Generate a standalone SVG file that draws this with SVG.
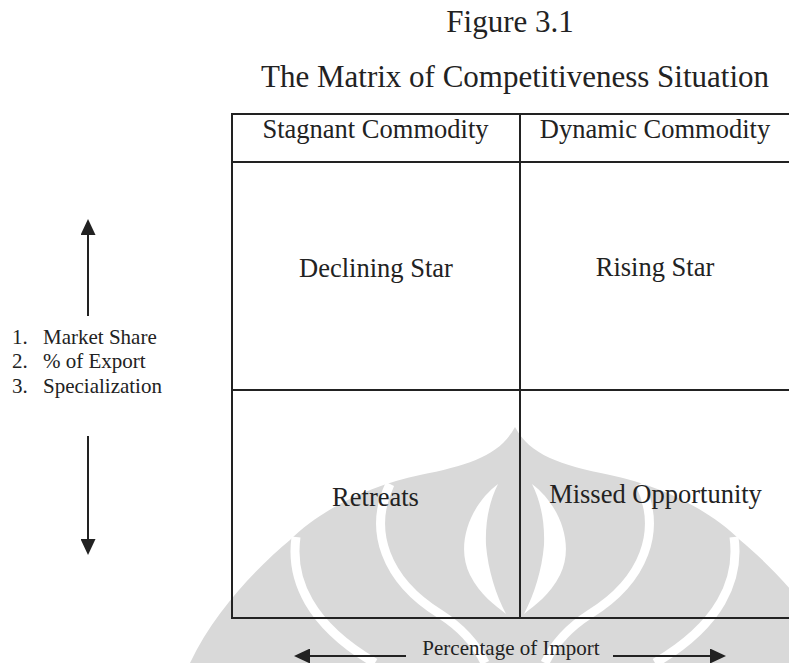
<svg xmlns="http://www.w3.org/2000/svg" width="789" height="663" viewBox="0 0 789 663">
<style>
  .t { font-family: "Liberation Serif", "Times New Roman", serif; fill: #222; }
  .title { font-size: 31px; text-anchor: middle; }
  .cell { font-size: 26.5px; text-anchor: middle; }
  .small { font-size: 21px; }
  .grid { stroke: #222; stroke-width: 2; fill: none; }
  .arrow { stroke: #222; stroke-width: 2; fill: none; }
  .band { stroke: #fff; stroke-width: 9; fill: none; }
</style>
<defs>
  <marker id="head" markerUnits="userSpaceOnUse" markerWidth="16" markerHeight="15" refX="0" refY="7.5" orient="auto">
    <path d="M0,0 L16,7.5 L0,15 Z" fill="#222"/>
  </marker>
</defs>
<rect width="789" height="663" fill="#fff"/>
<g id="watermark">
  <path d="M515,427 C500,455 470,465 420,475 C370,485 320,510 290,540 C260,565 215,610 190,663 L840,663 C815,610 770,565 740,540 C710,510 660,485 610,475 C560,465 530,455 515,427 Z" fill="#d9d9d9"/>
  <path class="band" d="M296,537 C290,580 310,625 375,663"/>
  <path class="band" d="M734,537 C740,580 720,625 655,663"/>
  <path class="band" d="M390,484 C368,530 385,580 440,614 C465,630 478,648 485,663"/>
  <path class="band" d="M640,484 C662,530 645,580 590,614 C565,630 552,648 545,663"/>
  <path fill="#fff" d="M498,484 C470,505 455,545 470,575 C480,595 495,605 506,614 C496,595 488,570 486,545 C485,520 490,500 498,484 Z"/>
  <path fill="#fff" d="M532,484 C560,505 575,545 560,575 C550,595 535,605 524,614 C534,595 542,570 544,545 C545,520 540,500 532,484 Z"/>
</g>
<g id="titles">
  <text class="t title" x="510" y="32">Figure 3.1</text>
  <text class="t title" x="515" y="87">The Matrix of Competitiveness Situation</text>
</g>
<g id="matrix">
  <path class="grid" d="M792,114 H232 V618 H792 M232,162 H792 M232,390 H792 M520,114 V618"/>
</g>
<g id="stagnant"><text class="t cell" x="375.5" y="138">Stagnant Commodity</text></g>
<g id="dynamic"><text class="t cell" x="655" y="138">Dynamic Commodity</text></g>
<g id="declining-star"><text class="t cell" x="376" y="277">Declining Star</text></g>
<g id="rising-star"><text class="t cell" x="655" y="276">Rising Star</text></g>
<g id="retreats"><text class="t cell" x="375.5" y="506">Retreats</text></g>
<g id="missed-opportunity"><text class="t cell" x="655.5" y="503">Missed Opportunity</text></g>
<g id="y-axis-label">
  <text class="t small" x="12" y="344">1.</text><text class="t small" x="43" y="344">Market Share</text>
  <text class="t small" x="12" y="368">2.</text><text class="t small" x="43" y="368">% of Export</text>
  <text class="t small" x="12" y="393">3.</text><text class="t small" x="43" y="393">Specialization</text>
</g>
<g id="x-axis-label">
  <text class="t small" x="511" y="655" text-anchor="middle">Percentage of Import</text>
</g>
<g id="connectors">
  <line class="arrow" x1="88" y1="316" x2="88" y2="235" marker-end="url(#head)"/>
  <line class="arrow" x1="88" y1="436" x2="88" y2="539" marker-end="url(#head)"/>
  <line class="arrow" x1="406" y1="656" x2="310" y2="656" marker-end="url(#head)"/>
  <line class="arrow" x1="613" y1="656" x2="710" y2="656" marker-end="url(#head)"/>
</g>
</svg>
